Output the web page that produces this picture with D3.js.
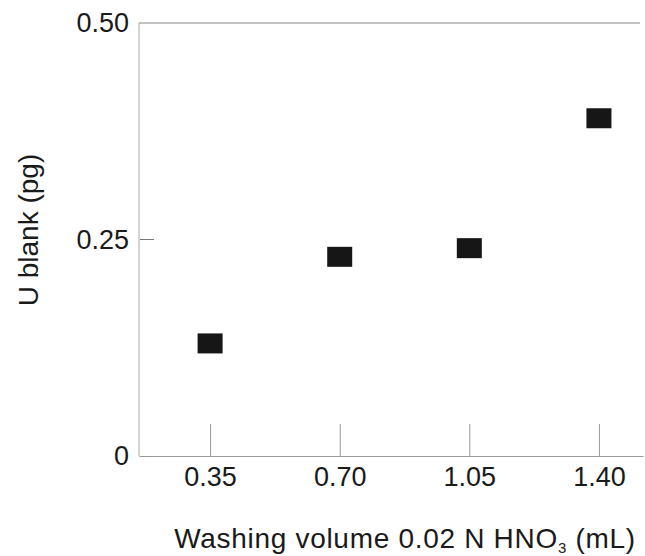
<!DOCTYPE html>
<html>
<head>
<meta charset="utf-8">
<script src="https://cdn.jsdelivr.net/npm/d3@7"></script>
<style>
  body { margin: 0; background: #fff; }
  text { font-family: "Liberation Sans", Arial, sans-serif; fill: #1a1a1a; }
</style>
</head>
<body>
<svg></svg>
<script>
let volumes = [0.35, 0.70, 1.05, 1.40];
let blanks = [0.13, 0.23, 0.24, 0.39];
let xTickLabels = ["0.35", "0.70", "1.05", "1.40"];
let yTicks = [0, 0.25, 0.5];
let yTickLabels = ["0", "0.25", "0.50"];

let width = 645;
let height = 556;
let svg = d3.select("svg").attr("width", width).attr("height", height);

let xScale = d3.scaleLinear().domain([0.158, 1.519]).range([139, 643]);
let yScale = d3.scaleLinear().domain([0, 0.5]).range([456, 23]);

// frame: left and top lines
svg.append("line").attr("x1", 139).attr("x2", 139).attr("y1", 23).attr("y2", 456)
   .attr("stroke", "#aaa").attr("stroke-width", 1);
svg.append("line").attr("x1", 139).attr("x2", 640).attr("y1", 23).attr("y2", 23)
   .attr("stroke", "#888").attr("stroke-width", 1.2);

// x axis, ticks pointing up into the plot
let xAxis = d3.axisBottom(xScale)
    .tickValues(volumes)
    .tickFormat((d, i) => xTickLabels[i])
    .tickSizeInner(-32)
    .tickSizeOuter(0)
    .tickPadding(11);
let gx = svg.append("g").attr("transform", "translate(0,456)").call(xAxis);
gx.select(".domain").attr("stroke", "#999");
gx.selectAll(".tick line").attr("stroke", "#999");
gx.selectAll("text").attr("font-size", 27).attr("fill", "#1a1a1a");

// y axis, only the middle tick mark is drawn
let yAxis = d3.axisLeft(yScale)
    .tickValues(yTicks)
    .tickFormat((d, i) => yTickLabels[i])
    .tickSizeInner(0)
    .tickSizeOuter(0)
    .tickPadding(10);
let gy = svg.append("g").attr("transform", "translate(139,0)").call(yAxis);
gy.select(".domain").remove();
gy.selectAll("text").attr("font-size", 27).attr("fill", "#1a1a1a");
svg.append("line").attr("x1", 140).attr("x2", 154)
   .attr("y1", yScale(0.25)).attr("y2", yScale(0.25))
   .attr("stroke", "#777").attr("stroke-width", 1);

// points
svg.selectAll(".pt").data(volumes).enter().append("rect")
   .attr("class", "pt")
   .attr("x", d => xScale(d) - 12.5)
   .attr("y", (d, i) => yScale(blanks[i]) - 10)
   .attr("width", 25)
   .attr("height", 20)
   .attr("fill", "#161616");

// axis titles
let xt = svg.append("text").attr("x", 405).attr("y", 548)
   .attr("text-anchor", "middle").attr("font-size", 28)
   .attr("letter-spacing", 0.7);
xt.append("tspan").text("Washing volume 0.02 N HNO");
xt.append("tspan").attr("font-size", 15).attr("dy", 5).text("3");
xt.append("tspan").attr("dy", -5).text(" (mL)");

svg.append("text")
   .attr("transform", "translate(38,230) rotate(-90)")
   .attr("text-anchor", "middle").attr("font-size", 28)
   .text("U blank (pg)");
</script>
</body>
</html>
